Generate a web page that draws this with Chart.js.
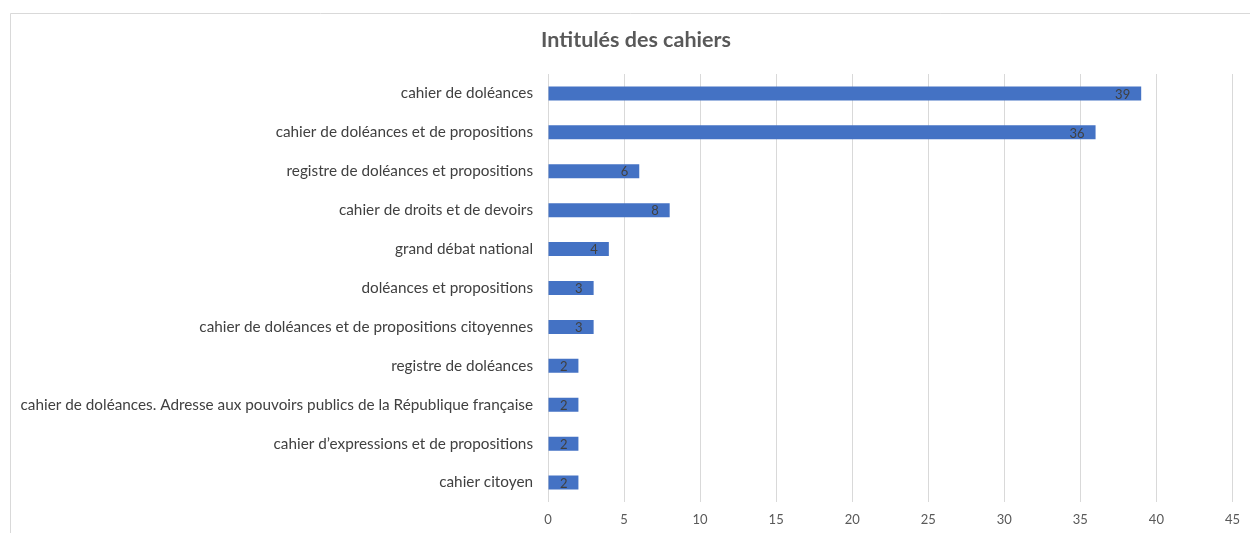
<!DOCTYPE html>
<html>
<head>
<meta charset="utf-8">
<script src="https://cdn.jsdelivr.net/npm/chart.js@4"></script>
<style>
html,body{margin:0;padding:0;background:#fff;}
#wrap{position:relative;width:1250px;height:533px;}
</style>
</head>
<body>
<div id="wrap"><canvas id="c" width="1250" height="533"></canvas></div>
<script>
const titleText = "Intitulés des cahiers";
const categories = [
  "cahier de doléances",
  "cahier de doléances et de propositions",
  "registre de doléances et propositions",
  "cahier de droits et de devoirs",
  "grand débat national",
  "doléances et propositions",
  "cahier de doléances et de propositions citoyennes",
  "registre de doléances",
  "cahier de doléances. Adresse aux pouvoirs publics de la République française",
  "cahier d\u2019expressions et de propositions",
  "cahier citoyen"
];
const counts = [39, 36, 6, 8, 4, 3, 3, 2, 2, 2, 2];
const xMin = 0, xMax = 45, xStep = 5;

const framePlugin = {
  id: 'frame',
  beforeDraw(chart) {
    const ctx = chart.ctx;
    ctx.save();
    ctx.fillStyle = '#fff';
    ctx.fillRect(0, 0, chart.width, chart.height);
    ctx.strokeStyle = '#d9d9d9';
    ctx.lineWidth = 1;
    ctx.beginPath();
    ctx.moveTo(10.5, chart.height);
    ctx.lineTo(10.5, 13.5);
    ctx.lineTo(chart.width, 13.5);
    ctx.stroke();
    // title, centred over the plot frame
    ctx.font = 'bold 21.5px Lato, "Open Sans", sans-serif';
    ctx.fillStyle = '#595959';
    ctx.textAlign = 'center';
    ctx.textBaseline = 'middle';
    ctx.fillText(titleText, 636, 40);
    ctx.restore();
  }
};

const valueLabels = {
  id: 'valueLabels',
  afterDatasetsDraw(chart) {
    const ctx = chart.ctx;
    const meta = chart.getDatasetMeta(0);
    ctx.save();
    ctx.font = '13px Lato, "Open Sans", sans-serif';
    ctx.fillStyle = '#404040';
    ctx.textAlign = 'right';
    ctx.textBaseline = 'middle';
    meta.data.forEach((bar, i) => {
      ctx.fillText(String(chart.data.datasets[0].data[i]), bar.x - 11, bar.y + 1);
    });
    ctx.restore();
  }
};

new Chart(document.getElementById('c'), {
  type: 'bar',
  data: {
    labels: categories,
    datasets: [{
      data: counts,
      backgroundColor: '#4472C4',
      borderWidth: 0,
      categoryPercentage: 0.72,
      barPercentage: 0.5
    }]
  },
  options: {
    indexAxis: 'y',
    responsive: false,
    animation: false,
    devicePixelRatio: 1,
    layout: { padding: { left: 0, right: 12, top: 74, bottom: 0 } },
    plugins: {
      legend: { display: false },
      tooltip: { enabled: false },
      title: { display: false }
    },
    scales: {
      x: {
        type: 'linear',
        min: xMin, max: xMax,
        ticks: { stepSize: xStep, color: '#595959', font: { family: 'Lato, "Open Sans", sans-serif', size: 13 }, padding: 10 },
        grid: { color: '#d9d9d9', lineWidth: 1, drawTicks: false },
        border: { display: false },
        afterFit(scale) { scale.height = 31; }
      },
      y: {
        ticks: { color: '#404040', font: { family: 'Lato, "Open Sans", sans-serif', size: 15.3 }, padding: 15, autoSkip: false },
        grid: { display: false, drawTicks: false },
        border: { display: false },
        afterFit(scale) { scale.width = 548; }
      }
    }
  },
  plugins: [framePlugin, valueLabels]
});
</script>
</body>
</html>
